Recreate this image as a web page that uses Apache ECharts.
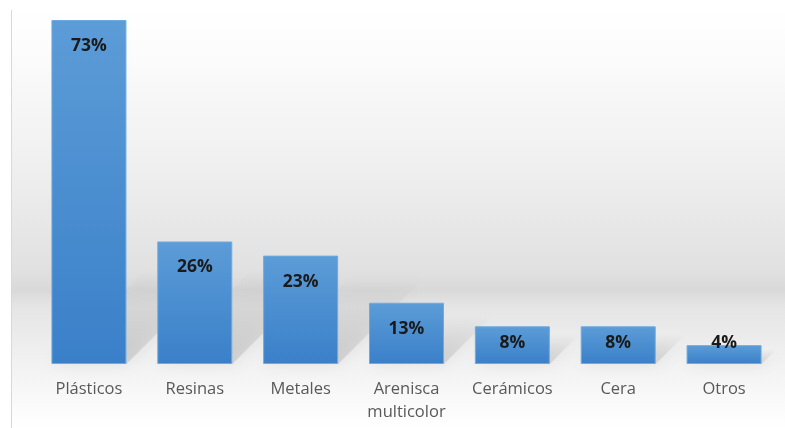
<!DOCTYPE html>
<html>
<head>
<meta charset="utf-8">
<script src="https://cdn.jsdelivr.net/npm/echarts@6/dist/echarts.min.js"></script>
<style>html,body{margin:0;padding:0;background:#fff;}#c{width:785px;height:428px;}</style>
</head>
<body>
<div id="c"></div>
<script>
const categories = ['Plásticos', 'Resinas', 'Metales', 'Arenisca\nmulticolor', 'Cerámicos', 'Cera', 'Otros'];
const values = [73, 26, 23, 13, 8, 8, 4];

const chart = echarts.init(document.getElementById('c'), null, {renderer: 'canvas'});

function makeOption(pxPerUnit) {
  const barData = values.map(v => {
    const h = v * pxPerUnit;
    return {value: v, label: {position: ['50%', Math.min(26, h - 21)]}};
  });
  return {
    animation: false,
    graphic: [
      {
        type: 'rect', z: -10, silent: true,
        shape: {x: 11, y: 10, width: 774, height: 418},
        style: {
          fill: new echarts.graphic.LinearGradient(0, 0, 0, 1, [
            {offset: 0, color: '#ffffff'},
            {offset: 0.12, color: '#fbfbfb'},
            {offset: 0.4, color: '#eeeeee'},
            {offset: 0.62, color: '#e1e1e1'},
            {offset: 0.67, color: '#d9d9d9'},
            {offset: 0.71, color: '#e5e5e5'},
            {offset: 0.85, color: '#f2f2f2'},
            {offset: 1, color: '#ffffff'}
          ])
        }
      },
      {
        type: 'line', z: -9, silent: true,
        shape: {x1: 11.5, y1: 10, x2: 11.5, y2: 428},
        style: {stroke: '#d9d9d9', lineWidth: 1}
      }
    ],
    grid: {left: 36, right: 8, top: 20, bottom: 64},
    xAxis: {
      type: 'category',
      data: categories,
      axisLine: {show: false},
      axisTick: {show: false},
      axisLabel: {
        color: '#595959',
        fontFamily: 'Open Sans',
        fontSize: 16.5,
        lineHeight: 23,
        margin: 14,
        interval: 0
      }
    },
    yAxis: {
      type: 'value', min: 0, max: 73, show: false,
      splitLine: {show: false}
    },
    series: [
      {
        type: 'custom',
        z: 1,
        silent: true,
        data: values.map((v, i) => [i, v]),
        renderItem: function (params, api) {
          const i = api.value(0);
          const top = api.coord([i, api.value(1)]);
          const base = api.coord([i, 0]);
          const hw = 37.5;
          const h = base[1] - top[1];
          const hs = Math.min(h * 0.8, 95);
          const dx = hs * 1.0;
          const yb = base[1];
          return {
            type: 'polygon',
            shape: {points: [
              [base[0] - hw, yb],
              [base[0] + hw, yb],
              [base[0] + hw + dx, yb - hs],
              [base[0] - hw + dx, yb - hs]
            ]},
            style: {
              fill: new echarts.graphic.LinearGradient(0, 1, 0, 0, [
                {offset: 0, color: 'rgba(0,0,0,0.11)'},
                {offset: 1, color: 'rgba(0,0,0,0)'}
              ]),
              shadowBlur: 16,
              shadowColor: 'rgba(0,0,0,0.6)'
            }
          };
        }
      },
      {
        type: 'bar',
        z: 2,
        data: barData,
        barWidth: 75,
        itemStyle: {
          color: new echarts.graphic.LinearGradient(0, 0, 0, 1, [
            {offset: 0, color: '#5c9cd7'},
            {offset: 1, color: '#3a80c9'}
          ]),
          borderColor: '#6eaae0',
          borderWidth: 1
        },
        label: {
          show: true,
          formatter: '{c}%',
          align: 'center',
          verticalAlign: 'middle',
          color: '#1a1a1a',
          fontFamily: 'Open Sans',
          fontWeight: 'bold',
          fontSize: 17.5
        }
      }
    ]
  };
}

chart.setOption(makeOption(4.7));
const p0 = chart.convertToPixel({yAxisIndex: 0}, 0);
const p1 = chart.convertToPixel({yAxisIndex: 0}, 1);
chart.setOption(makeOption(p0 - p1));
</script>
</body>
</html>
